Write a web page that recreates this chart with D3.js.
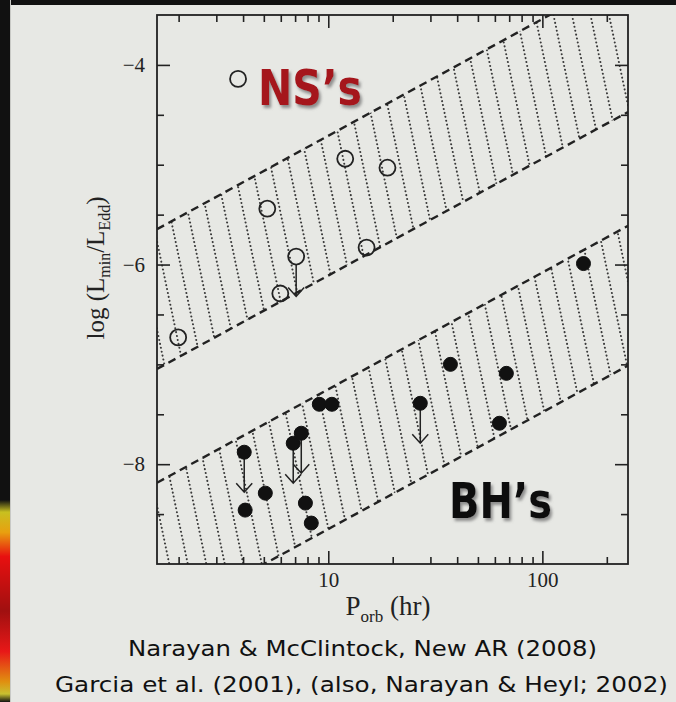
<!DOCTYPE html>
<html>
<head>
    <script src="https://cdnjs.cloudflare.com/ajax/libs/d3/7.8.5/d3.min.js"></script>
    <style>
        body { margin: 0; background: #e7e8e4; }
        .frame { fill: none; stroke: #222; stroke-width: 1.8; }
        .axis path.domain { display: none; }
        .axis line { stroke: #222; stroke-width: 1.6; }
        .axis text { font-family: "Liberation Serif", serif; font-size: 21px; fill: #222; }
        .edge { fill: none; stroke: #222; stroke-width: 2.4; stroke-dasharray: 8,5; }
        .hatch { stroke: #3a3a3a; stroke-width: 2; stroke-linecap: round; stroke-dasharray: 0.1,3.9; }
        .ns { fill: none; stroke: #222; stroke-width: 1.8; }
        .bh { fill: #111; stroke: #111; stroke-width: 1; }
        .limit { fill: none; stroke: #222; stroke-width: 1.5; }
        .axis-label { font-family: "Liberation Serif", serif; fill: #222; }
        .caption { font-family: "DejaVu Sans", sans-serif; font-size: 22px; fill: #111; }
        .tag { font-family: "DejaVu Sans", sans-serif; font-weight: bold; font-size: 50px; }
    </style>
</head>
<body>
    <svg width="676" height="702"></svg>
    <script>
        // Neutron star systems (open circles)
        const nsPorb  = [1.99, 3.79, 5.19, 5.97, 7.08, 12.0, 15.1, 18.9];
        const nsLogL  = [-6.73, -4.14, -5.44, -6.29, -5.92, -4.94, -5.83, -5.03];
        const nsLimit = [false, false, false, false, true, false, false, false];

        // Black hole systems (filled circles)
        const bhPorb  = [4.05, 4.09, 5.08, 6.86, 7.48, 7.82, 8.33, 9.08, 10.4, 26.9, 37.2, 63.0, 67.9, 155.6];
        const bhLogL  = [-7.88, -8.46, -8.29, -7.79, -7.69, -8.39, -8.59, -7.40, -7.40, -7.39, -7.00, -7.59, -7.09, -5.99];
        const bhLimit = [true, false, false, true, true, false, false, false, false, true, false, false, false, false];

        // Hatched bands: log L = intercept + slope * log P
        const bandSlope = 1.17;
        const nsBand = [-7.28, -5.88];
        const bhBand = [-9.82, -8.42];

        // Tick values
        const xMajor = [10, 100];
        const xMinor = [2, 3, 4, 5, 6, 7, 8, 9, 20, 30, 40, 50, 60, 70, 80, 90, 200];
        const yMajor = [-8, -6, -4];
        const yMinor = [-8.5, -7.5, -7, -6.5, -5.5, -5, -4.5];

        const limitLen = 0.4;

        const svg = d3.select("svg");

        // slide background and photo edges
        svg.append("rect").attr("width", 676).attr("height", 702).attr("fill", "#e7e8e4");
        const defs = svg.append("defs");
        const grad = defs.append("linearGradient").attr("id", "blob")
            .attr("x1", 0).attr("y1", 0).attr("x2", 0).attr("y2", 1);
        [["0%", "#111"], ["6%", "#c8c020"], ["16%", "#e8a010"], ["28%", "#e81010"],
         ["55%", "#a01010"], ["75%", "#e81818"], ["90%", "#e09010"], ["96%", "#c8c030"], ["100%", "#111"]]
            .forEach(s => grad.append("stop").attr("offset", s[0]).attr("stop-color", s[1]));
        svg.append("rect").attr("width", 10).attr("height", 702).attr("fill", "#111");
        svg.append("rect").attr("width", 676).attr("height", 5).attr("fill", "#111");
        svg.append("rect").attr("x", 0).attr("y", 500).attr("width", 10).attr("height", 202)
            .attr("fill", "url(#blob)");
        svg.append("rect").attr("x", 10).attr("width", 1).attr("height", 702).attr("fill", "#c8c9c5");

        const shadow = defs.append("filter").attr("id", "shadow")
            .attr("x", "-10%").attr("y", "-10%").attr("width", "130%").attr("height", "140%");
        shadow.append("feDropShadow").attr("dx", 2).attr("dy", 3)
            .attr("stdDeviation", 1.5).attr("flood-color", "#777").attr("flood-opacity", 0.8);

        // plot area
        const pLeft = 157, pTop = 15, pRight = 628, pBottom = 564;

        const x = d3.scaleLog()
            .domain([Math.pow(10, 0.2), Math.pow(10, 2.4)])
            .range([pLeft, pRight]);

        const y = d3.scaleLinear()
            .domain([-9, -3.5])
            .range([pBottom, pTop]);

        defs.append("clipPath").attr("id", "plot")
            .append("rect").attr("x", pLeft).attr("y", pTop)
            .attr("width", pRight - pLeft).attr("height", pBottom - pTop);

        const lp0 = 0.2, lp1 = 2.4;
        const edgeLine = c => [[x(Math.pow(10, lp0)), y(c + bandSlope * lp0)],
                               [x(Math.pow(10, lp1)), y(c + bandSlope * lp1)]];

        const plot = svg.append("g").attr("clip-path", "url(#plot)");

        // hatched bands
        [nsBand, bhBand].forEach((band, i) => {
            const lo = edgeLine(band[0]), hi = edgeLine(band[1]);
            const poly = [lo[0], lo[1], hi[1], hi[0]];
            defs.append("clipPath").attr("id", "band" + i)
                .append("path").attr("d", d3.line()(poly) + "Z");

            const hatchStarts = d3.range(pLeft - 140, pRight + 20, 18.5);
            plot.append("g")
                .attr("clip-path", `url(#band${i})`)
                .selectAll("line")
                .data(hatchStarts)
                .enter()
                .append("line")
                .attr("class", "hatch")
                .attr("x1", d => d)
                .attr("y1", pTop)
                .attr("x2", d => d + 0.21 * (pBottom - pTop))
                .attr("y2", pBottom);

            band.forEach(c => {
                plot.append("path")
                    .attr("class", "edge")
                    .attr("d", d3.line()(edgeLine(c)));
            });
        });

        // upper limit arrows
        function drawLimits(porb, logL, lim, r) {
            porb.forEach((p, i) => {
                if (!lim[i]) return;
                const cx = x(p), y0 = y(logL[i]) + r, y1 = y(logL[i] - limitLen);
                plot.append("path")
                    .attr("class", "limit")
                    .attr("d", `M${cx},${y0}L${cx},${y1}M${cx - 8},${y1 - 9}L${cx},${y1}L${cx + 8},${y1 - 9}`);
            });
        }
        drawLimits(nsPorb, nsLogL, nsLimit, 8);
        drawLimits(bhPorb, bhLogL, bhLimit, 6);

        // data points
        plot.selectAll(".ns")
            .data(nsPorb)
            .enter()
            .append("circle")
            .attr("class", "ns")
            .attr("cx", d => x(d))
            .attr("cy", (d, i) => y(nsLogL[i]))
            .attr("r", 8);

        plot.selectAll(".bh")
            .data(bhPorb)
            .enter()
            .append("circle")
            .attr("class", "bh")
            .attr("cx", d => x(d))
            .attr("cy", (d, i) => y(bhLogL[i]))
            .attr("r", 7);

        // axes (ticks pointing inward)
        svg.append("g").attr("class", "axis")
            .attr("transform", `translate(0,${pBottom})`)
            .call(d3.axisBottom(x).tickValues(xMajor).tickSizeInner(-13).tickSizeOuter(0)
                .tickPadding(8).tickFormat(d3.format("d")));
        svg.append("g").attr("class", "axis")
            .attr("transform", `translate(0,${pBottom})`)
            .call(d3.axisBottom(x).tickValues(xMinor).tickSizeInner(-7).tickSizeOuter(0).tickFormat(""));
        svg.append("g").attr("class", "axis")
            .attr("transform", `translate(0,${pTop})`)
            .call(d3.axisTop(x).tickValues(xMajor).tickSizeInner(-13).tickSizeOuter(0).tickFormat(""));
        svg.append("g").attr("class", "axis")
            .attr("transform", `translate(0,${pTop})`)
            .call(d3.axisTop(x).tickValues(xMinor).tickSizeInner(-7).tickSizeOuter(0).tickFormat(""));

        svg.append("g").attr("class", "axis")
            .attr("transform", `translate(${pLeft},0)`)
            .call(d3.axisLeft(y).tickValues(yMajor).tickSizeInner(-13).tickSizeOuter(0)
                .tickPadding(12).tickFormat(d3.format("d")));
        svg.append("g").attr("class", "axis")
            .attr("transform", `translate(${pLeft},0)`)
            .call(d3.axisLeft(y).tickValues(yMinor).tickSizeInner(-7).tickSizeOuter(0).tickFormat(""));
        svg.append("g").attr("class", "axis")
            .attr("transform", `translate(${pRight},0)`)
            .call(d3.axisRight(y).tickValues(yMajor).tickSizeInner(-13).tickSizeOuter(0).tickFormat(""));
        svg.append("g").attr("class", "axis")
            .attr("transform", `translate(${pRight},0)`)
            .call(d3.axisRight(y).tickValues(yMinor).tickSizeInner(-7).tickSizeOuter(0).tickFormat(""));

        svg.append("rect")
            .attr("class", "frame")
            .attr("x", pLeft).attr("y", pTop)
            .attr("width", pRight - pLeft).attr("height", pBottom - pTop);

        // axis labels
        const xl = svg.append("text")
            .attr("class", "axis-label")
            .attr("x", 388).attr("y", 615)
            .style("text-anchor", "middle")
            .style("font-size", "27px");
        xl.append("tspan").text("P");
        xl.append("tspan").attr("dy", 7).style("font-size", "17px").text("orb");
        xl.append("tspan").attr("dy", -7).text(" (hr)");

        const yl = svg.append("text")
            .attr("class", "axis-label")
            .attr("transform", "translate(104,268) rotate(-90)")
            .style("text-anchor", "middle")
            .style("font-size", "25px");
        yl.append("tspan").text("log (L");
        yl.append("tspan").attr("dy", 6).style("font-size", "16px").text("min");
        yl.append("tspan").attr("dy", -6).text("/L");
        yl.append("tspan").attr("dy", 6).style("font-size", "16px").text("Edd");
        yl.append("tspan").attr("dy", -6).text(")");

        // group tags
        svg.append("text")
            .attr("class", "tag")
            .attr("x", 258).attr("y", 105)
            .attr("textLength", 104).attr("lengthAdjust", "spacingAndGlyphs")
            .attr("fill", "#a5121a")
            .attr("filter", "url(#shadow)")
            .text("NS’s");
        svg.append("text")
            .attr("class", "tag")
            .attr("x", 449).attr("y", 518)
            .attr("textLength", 103).attr("lengthAdjust", "spacingAndGlyphs")
            .attr("fill", "#111")
            .attr("filter", "url(#shadow)")
            .text("BH’s");

        // references
        svg.append("text")
            .attr("class", "caption")
            .attr("x", 128).attr("y", 656)
            .attr("textLength", 469).attr("lengthAdjust", "spacingAndGlyphs")
            .text("Narayan & McClintock, New AR (2008)");
        svg.append("text")
            .attr("class", "caption")
            .attr("x", 55).attr("y", 692)
            .attr("textLength", 613).attr("lengthAdjust", "spacingAndGlyphs")
            .text("Garcia et al. (2001), (also, Narayan & Heyl; 2002)");
    </script>
</body>
</html>
